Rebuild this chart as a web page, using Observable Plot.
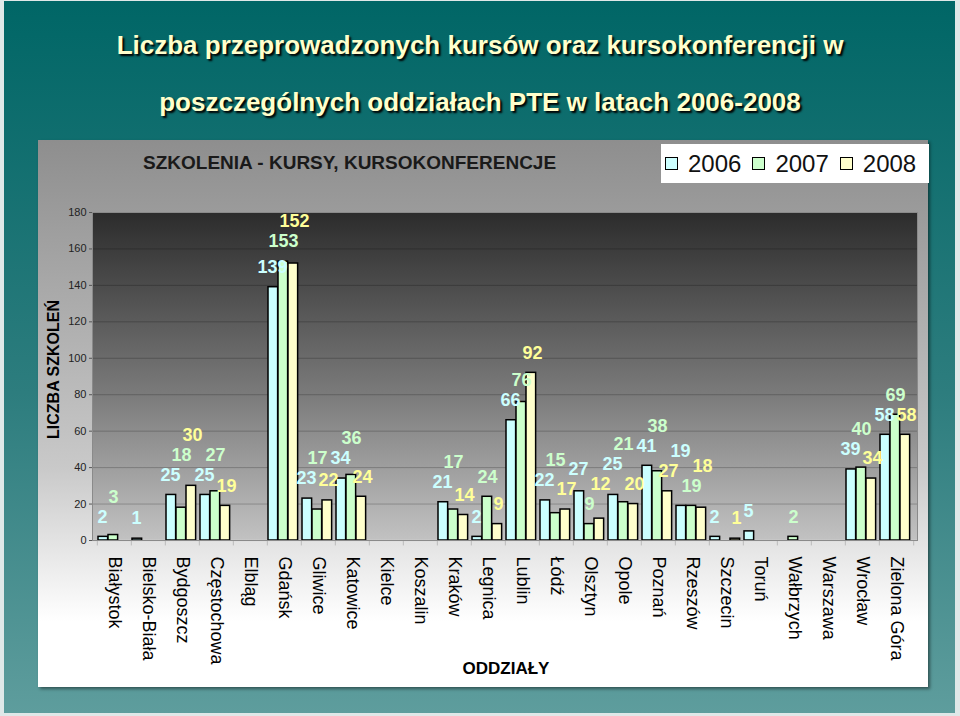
<!DOCTYPE html>
<html>
<head>
<meta charset="utf-8">
<script src="https://cdn.jsdelivr.net/npm/d3@7"></script>
<script src="https://cdn.jsdelivr.net/npm/@observablehq/plot@0.6"></script>
<style>
  html, body { margin: 0; padding: 0; }
  body { font-family: "Liberation Sans", Arial, sans-serif; }
  #page { position: relative; width: 960px; height: 716px; overflow: hidden; background: #dfe8e8; }
  #teal { position: absolute; left: 4px; top: 1px; width: 951px; height: 712px;
          background: linear-gradient(to bottom, #006666 0%, #2d7d7e 55%, #5e9d9d 100%); }
  .title { position: absolute; left: 0; width: 960px; text-align: center; color: #ffffcc;
           font-weight: bold; font-size: 26px; text-shadow: 2px 2px 2px #000; white-space: nowrap; }
  #panel { position: absolute; left: 38px; top: 140px; width: 890px; height: 547px;
           background: linear-gradient(to bottom, #8e8e8e 0%, #c9c9c9 60%, #ffffff 88%);
           box-shadow: 2px 2px 3px rgba(0,0,0,0.45); }
  #subtitle { position: absolute; left: 143px; top: 152px; font-weight: bold; font-size: 19px; color: #1a1a1a; white-space: nowrap; }
  #legend { position: absolute; left: 661px; top: 144px; width: 268px; height: 39px; background: #fff;
            display: flex; align-items: center; font-size: 24px; color: #111; }
  #legend .sw { width: 11px; height: 11px; border: 1px solid #000; display: inline-block; }
  #chart { position: absolute; left: 0; top: 0; }
</style>
</head>
<body>
<div id="page">
  <div id="teal"></div>
  <div class="title" style="top:30px">Liczba przeprowadzonych kursów oraz kursokonferencji w</div>
  <div class="title" style="top:87px">poszczególnych oddziałach PTE w latach 2006-2008</div>
  <div id="panel"></div>
  <div id="subtitle">SZKOLENIA - KURSY, KURSOKONFERENCJE</div>
  <div id="legend"></div>
  <div id="chart"></div>
</div>
<script>
// ---- data ----
const cities = ["Białystok","Bielsko-Biała","Bydgoszcz","Częstochowa","Elbląg","Gdańsk","Gliwice","Katowice","Kielce","Koszalin","Kraków","Legnica","Lublin","Łódź","Olsztyn","Opole","Poznań","Rzeszów","Szczecin","Toruń","Wałbrzych","Warszawa","Wrocław","Zielona Góra"];
const years = ["2006","2007","2008"];
const v2006 = [2,1,25,25,null,139,23,34,null,null,21,2,66,22,27,25,41,19,2,5,null,null,39,58];
const v2007 = [3,null,18,27,null,153,17,36,null,null,17,24,76,15,9,21,38,19,null,null,2,null,40,69];
const v2008 = [null,null,30,19,null,152,22,24,null,null,14,9,92,17,12,20,27,18,1,null,null,null,34,58];
const yTicks = [0,20,40,60,80,100,120,140,160,180];
const yTitle = "LICZBA SZKOLEŃ";
const xTitle = "ODDZIAŁY";

const series = [v2006, v2007, v2008];
const barFill = ["#ccffff", "#ccffcc", "#ffffcc"];
const labelFill = ["#ccffff", "#ccffcc", "#ffff99"];

// legend
const legend = document.getElementById("legend");
years.forEach((y, i) => {
  const sw = document.createElement("span");
  sw.className = "sw";
  sw.style.background = barFill[i];
  sw.style.marginLeft = i === 0 ? "4px" : "11px";
  sw.style.marginRight = "10px";
  legend.appendChild(sw);
  const t = document.createElement("span");
  t.textContent = y;
  legend.appendChild(t);
});

const W = 960, H = 716, mL = 92, mR = 43, mT = 212, mB = 176;
const yDomain = [0, 180];
const step = (W - mL - mR) / cities.length;
const barW = 10, lead = 1;
const labelDx = [-12, -1, 10];
const labelFont = 18;

const rows = series.map((arr, i) => cities.map((c, j) => ({city: c, ci: j, year: years[i], si: i, value: arr[j]})).filter(d => d.value != null));

// value labels: start ~20px above the bar top, pushed up when they collide with an earlier label
const ys = d3.scaleLinear(yDomain, [H - mB, mT]);
const labels = rows.flat().sort((a, b) => a.ci - b.ci || a.si - b.si).map(d => ({
  ...d,
  px: mL + step * (d.ci + 0.5) + labelDx[d.si],
  py: ys(d.value) - 20,
  w: String(d.value).length * 10 + 2,
  h: 19
}));
const placed = [];
for (const L of labels) {
  let moved = true;
  while (moved) {
    moved = false;
    for (const P of placed) {
      if (Math.abs(L.px - P.px) < (L.w + P.w) / 2 && Math.abs(L.py - P.py) < (L.h + P.h) / 2) {
        L.py = P.py - (L.h + P.h) / 2 - 1;
        moved = true;
      }
    }
  }
  placed.push(L);
  L.ly = ys.invert(L.py);
}

const marks = [
  Plot.frame({fill: "url(#plotBg)"}),
  Plot.gridY(yTicks, {stroke: "#000", strokeOpacity: 0.22}),
  Plot.ruleY([0], {stroke: "#d8d8d8", strokeWidth: 1.5}),
  Plot.ruleX(cities, {x: d => d, dx: -step / 2, y1: 0, y2: -3, stroke: "#bbb"}),
  Plot.ruleX([cities[cities.length - 1]], {x: d => d, dx: step / 2, y1: 0, y2: -3, stroke: "#bbb"})
];
rows.forEach((r, i) => {
  const left = lead + i * barW;
  marks.push(Plot.barY(r, {x: "city", y: "value", fill: barFill[i], stroke: "#000", strokeWidth: 1.5,
    insetLeft: left, insetRight: step - left - barW}));
});
years.forEach((yr, i) => {
  marks.push(Plot.text(labels.filter(d => d.si === i), {x: "city", y: "ly", text: d => String(d.value),
    dx: labelDx[i], lineAnchor: "middle", fill: labelFill[i], fontSize: labelFont, fontWeight: "bold"}));
});
marks.push(
  Plot.axisY({ticks: yTicks, tickSize: 3, tickPadding: 3, fontSize: 11, label: null, color: "#222", stroke: "#555"}),
  Plot.axisX({tickRotate: 90, tickSize: 0, tickPadding: 16, fontSize: 18, label: null, color: "#000"}),
  Plot.frame({stroke: "#8a8a8a", strokeWidth: 1}),
  Plot.text([yTitle], {frameAnchor: "left", text: d => d, rotate: -90, dx: -39, dy: -7,
    textAnchor: "middle", lineAnchor: "middle", fontSize: 16, fontWeight: "bold", fill: "#000"}),
  Plot.text([xTitle], {frameAnchor: "bottom", text: d => d, dy: 128, dx: 1,
    textAnchor: "middle", lineAnchor: "middle", fontSize: 17, fontWeight: "bold", fill: "#000"})
);

const svg = Plot.plot({
  width: W, height: H,
  marginLeft: mL, marginRight: mR, marginTop: mT, marginBottom: mB,
  style: {background: "transparent", fontFamily: "'Liberation Sans', Arial, sans-serif", overflow: "visible"},
  x: {domain: cities, padding: 0},
  y: {domain: yDomain},
  marks
});

const defs = d3.select(svg).insert("defs", ":first-child");
const g = defs.append("linearGradient").attr("id", "plotBg")
  .attr("gradientUnits", "userSpaceOnUse").attr("x1", 0).attr("y1", mT).attr("x2", 0).attr("y2", H - mB);
g.append("stop").attr("offset", "0%").attr("stop-color", "#2c2c2c");
g.append("stop").attr("offset", "55%").attr("stop-color", "#7a7a7a");
g.append("stop").attr("offset", "100%").attr("stop-color", "#c2c2c2");

document.getElementById("chart").appendChild(svg);
</script>
</body>
</html>
